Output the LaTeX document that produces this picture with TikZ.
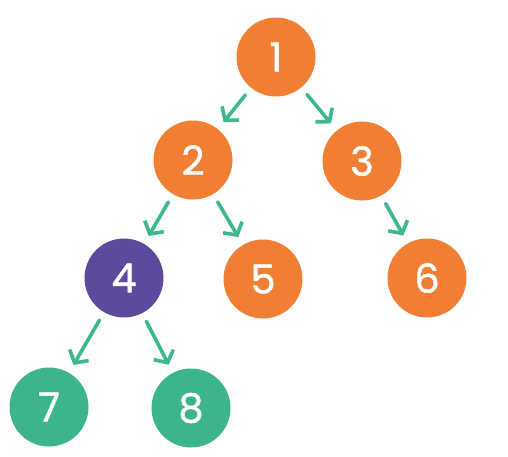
\documentclass[tikz,border=0pt]{standalone}
\usepackage{fontspec}
\setmainfont{Poppins}
\newfontfamily\digfont{Poppins}[FakeBold=1.2]
\usetikzlibrary{arrows.meta}
\definecolor{orng}{HTML}{F07F34}
\definecolor{purp}{HTML}{5E4A9C}
\definecolor{grn}{HTML}{3DB58A}
\definecolor{arr}{HTML}{3DB88A}
\tikzset{
  tn/.style={circle, minimum size=79pt, inner sep=0pt, text=white, font=\digfont\fontsize{40}{40}\selectfont},
  on/.style={tn, fill=orng},
  pn/.style={tn, fill=purp},
  gn/.style={tn, fill=grn},
  edge/.style={draw=arr, line width=3.6pt, line cap=round, line join=round,
    -{Straight Barb[length=9pt,width=22pt,line width=3.6pt]}, shorten <=9pt, shorten >=9pt}
}
\begin{document}
\begin{tikzpicture}[x=1pt,y=-1pt]
\useasboundingbox (0,0) rectangle (508,456);
\node[on] (n1) at (276,57) {1};
\node[on] (n2) at (193,160) {2};
\node[on] (n3) at (362,161) {3};
\node[pn] (n4) at (124,278) {4};
\node[on] (n5) at (263,279) {5};
\node[on] (n6) at (427,278) {6};
\node[gn] (n7) at (49,407) {7};
\node[gn] (n8) at (191,408) {8};
\draw[edge] (n1) -- (n2);
\draw[edge] (n1) -- (n3);
\draw[edge] (n2) -- (n4);
\draw[edge] (n2) -- (n5);
\draw[edge] (n3) -- (n6);
\draw[edge] (n4) -- (n7);
\draw[edge] (n4) -- (n8);
\end{tikzpicture}
\end{document}
